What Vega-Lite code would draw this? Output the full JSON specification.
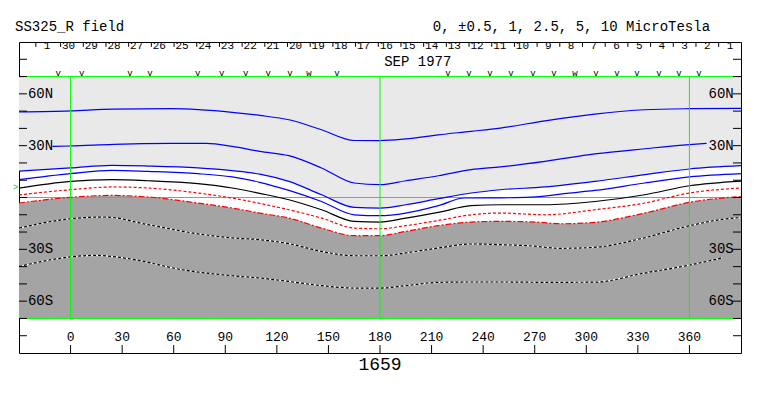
{
"$schema":"https://vega.github.io/schema/vega-lite/v6.json",
"width":722,"height":311,
"autosize":"none",
"padding":{"left":19,"top":42,"right":22,"bottom":43},
"background":"white",
"config":{"view":{"stroke":"#000000","strokeWidth":1},"text":{"font":"Liberation Mono","color":"#000000"}},
"datasets":{
"contours":[
{"c":"B1","lon":-30,"lat":49.5},{"c":"B1","lon":0,"lat":50.1},{"c":"B1","lon":25,"lat":51.2},{"c":"B1","lon":59,"lat":51.4},{"c":"B1","lon":94,"lat":49.3},{"c":"B1","lon":110,"lat":47.5},{"c":"B1","lon":127,"lat":45.0},{"c":"B1","lon":146,"lat":39.2},{"c":"B1","lon":165,"lat":33.0},{"c":"B1","lon":180,"lat":32.9},{"c":"B1","lon":195,"lat":33.9},{"c":"B1","lon":214,"lat":36.3},{"c":"B1","lon":233,"lat":38.3},{"c":"B1","lon":250,"lat":40.2},{"c":"B1","lon":276,"lat":44.4},{"c":"B1","lon":305,"lat":48.3},{"c":"B1","lon":334,"lat":50.8},{"c":"B1","lon":360,"lat":51.4},{"c":"B1","lon":390,"lat":51.6},
{"c":"B2","lon":-10.6,"lat":29.6},{"c":"B2","lon":0,"lat":29.8},{"c":"B2","lon":25,"lat":30.8},{"c":"B2","lon":59,"lat":31.3},{"c":"B2","lon":79,"lat":31.3},{"c":"B2","lon":94,"lat":29.6},{"c":"B2","lon":110,"lat":26.7},{"c":"B2","lon":127,"lat":24.2},{"c":"B2","lon":146,"lat":17.1},{"c":"B2","lon":165,"lat":8.4},{"c":"B2","lon":180,"lat":7.4},{"c":"B2","lon":195,"lat":9.7},{"c":"B2","lon":214,"lat":12.6},{"c":"B2","lon":233,"lat":16.1},{"c":"B2","lon":250,"lat":17.7},{"c":"B2","lon":276,"lat":20.9},{"c":"B2","lon":305,"lat":25.2},{"c":"B2","lon":334,"lat":28.2},{"c":"B2","lon":360,"lat":30.6},{"c":"B2","lon":370,"lat":31.3},
{"c":"B3","lon":-30,"lat":15.3},{"c":"B3","lon":0,"lat":17.1},{"c":"B3","lon":24,"lat":18.6},{"c":"B3","lon":45,"lat":18.2},{"c":"B3","lon":74,"lat":17.1},{"c":"B3","lon":94,"lat":15.5},{"c":"B3","lon":110,"lat":13.5},{"c":"B3","lon":127,"lat":9.3},{"c":"B3","lon":146,"lat":1.6},{"c":"B3","lon":165,"lat":-5.7},{"c":"B3","lon":180,"lat":-6.1},{"c":"B3","lon":195,"lat":-4.2},{"c":"B3","lon":214,"lat":-0.7},{"c":"B3","lon":233,"lat":2.6},{"c":"B3","lon":250,"lat":4.5},{"c":"B3","lon":276,"lat":6.1},{"c":"B3","lon":305,"lat":9.3},{"c":"B3","lon":334,"lat":13.2},{"c":"B3","lon":360,"lat":16.5},{"c":"B3","lon":390,"lat":18.4},
{"c":"B4","lon":-30,"lat":10.3},{"c":"B4","lon":0,"lat":13.8},{"c":"B4","lon":24,"lat":15.7},{"c":"B4","lon":45,"lat":15.1},{"c":"B4","lon":74,"lat":13.8},{"c":"B4","lon":94,"lat":11.9},{"c":"B4","lon":110,"lat":8.8},{"c":"B4","lon":127,"lat":4.1},{"c":"B4","lon":146,"lat":-2.3},{"c":"B4","lon":165,"lat":-10.0},{"c":"B4","lon":180,"lat":-10.5},{"c":"B4","lon":195,"lat":-9.0},{"c":"B4","lon":214,"lat":-4.7},{"c":"B4","lon":229,"lat":-0.3},{"c":"B4","lon":250,"lat":-0.2},{"c":"B4","lon":268,"lat":0.2},{"c":"B4","lon":290,"lat":2.5},{"c":"B4","lon":305,"lat":4.1},{"c":"B4","lon":334,"lat":8.4},{"c":"B4","lon":360,"lat":11.9},{"c":"B4","lon":390,"lat":13.8},
{"c":"K","lon":-30,"lat":5.4},{"c":"K","lon":0,"lat":9.3},{"c":"K","lon":24,"lat":10.3},{"c":"K","lon":45,"lat":9.7},{"c":"K","lon":74,"lat":8.0},{"c":"K","lon":94,"lat":5.5},{"c":"K","lon":110,"lat":2.4},{"c":"K","lon":127,"lat":-1.3},{"c":"K","lon":146,"lat":-7.1},{"c":"K","lon":165,"lat":-13.8},{"c":"K","lon":180,"lat":-14.2},{"c":"K","lon":195,"lat":-11.9},{"c":"K","lon":214,"lat":-8.6},{"c":"K","lon":233,"lat":-4.7},{"c":"K","lon":250,"lat":-4.2},{"c":"K","lon":276,"lat":-4.2},{"c":"K","lon":305,"lat":-2.3},{"c":"K","lon":334,"lat":1.6},{"c":"K","lon":360,"lat":6.8},{"c":"K","lon":390,"lat":9.5},
{"c":"R1","lon":-30,"lat":1.5},{"c":"R1","lon":0,"lat":4.5},{"c":"R1","lon":24,"lat":6.1},{"c":"R1","lon":45,"lat":5.5},{"c":"R1","lon":74,"lat":2.6},{"c":"R1","lon":94,"lat":-0.3},{"c":"R1","lon":110,"lat":-3.4},{"c":"R1","lon":127,"lat":-7.1},{"c":"R1","lon":146,"lat":-11.9},{"c":"R1","lon":165,"lat":-17.7},{"c":"R1","lon":180,"lat":-18.1},{"c":"R1","lon":195,"lat":-16.3},{"c":"R1","lon":214,"lat":-13.3},{"c":"R1","lon":233,"lat":-10.0},{"c":"R1","lon":250,"lat":-9.0},{"c":"R1","lon":276,"lat":-10.0},{"c":"R1","lon":305,"lat":-7.1},{"c":"R1","lon":334,"lat":-3.2},{"c":"R1","lon":360,"lat":2.6},{"c":"R1","lon":390,"lat":5.5},
{"c":"R2","lon":-30,"lat":-3.2},{"c":"R2","lon":0,"lat":0.1},{"c":"R2","lon":24,"lat":1.2},{"c":"R2","lon":45,"lat":0.3},{"c":"R2","lon":74,"lat":-3.2},{"c":"R2","lon":94,"lat":-6.1},{"c":"R2","lon":110,"lat":-9.0},{"c":"R2","lon":127,"lat":-11.9},{"c":"R2","lon":146,"lat":-17.7},{"c":"R2","lon":165,"lat":-22.1},{"c":"R2","lon":180,"lat":-22.1},{"c":"R2","lon":195,"lat":-19.6},{"c":"R2","lon":214,"lat":-16.3},{"c":"R2","lon":233,"lat":-14.2},{"c":"R2","lon":250,"lat":-13.8},{"c":"R2","lon":270,"lat":-14.2},{"c":"R2","lon":286,"lat":-15.2},{"c":"R2","lon":305,"lat":-14.4},{"c":"R2","lon":334,"lat":-9.0},{"c":"R2","lon":360,"lat":-2.8},{"c":"R2","lon":390,"lat":0.6},
{"c":"D1","lon":-30,"lat":-17.7},{"c":"D1","lon":0,"lat":-12.3},{"c":"D1","lon":20,"lat":-11.3},{"c":"D1","lon":45,"lat":-15.7},{"c":"D1","lon":74,"lat":-21.0},{"c":"D1","lon":94,"lat":-23.4},{"c":"D1","lon":110,"lat":-24.4},{"c":"D1","lon":127,"lat":-26.7},{"c":"D1","lon":146,"lat":-31.2},{"c":"D1","lon":165,"lat":-33.7},{"c":"D1","lon":180,"lat":-33.7},{"c":"D1","lon":195,"lat":-32.1},{"c":"D1","lon":214,"lat":-29.2},{"c":"D1","lon":233,"lat":-26.9},{"c":"D1","lon":250,"lat":-27.3},{"c":"D1","lon":266,"lat":-27.9},{"c":"D1","lon":285,"lat":-29.4},{"c":"D1","lon":304,"lat":-28.9},{"c":"D1","lon":333,"lat":-23.5},{"c":"D1","lon":359,"lat":-16.6},{"c":"D1","lon":381,"lat":-12.4},{"c":"D1","lon":390,"lat":-11.6},
{"c":"D2","lon":-30,"lat":-39.9},{"c":"D2","lon":0,"lat":-34.4},{"c":"D2","lon":14,"lat":-33.5},{"c":"D2","lon":35,"lat":-35.6},{"c":"D2","lon":65,"lat":-41.8},{"c":"D2","lon":94,"lat":-45.3},{"c":"D2","lon":110,"lat":-46.6},{"c":"D2","lon":127,"lat":-48.6},{"c":"D2","lon":146,"lat":-51.0},{"c":"D2","lon":165,"lat":-52.4},{"c":"D2","lon":180,"lat":-52.4},{"c":"D2","lon":195,"lat":-51.0},{"c":"D2","lon":214,"lat":-49.1},{"c":"D2","lon":233,"lat":-48.9},{"c":"D2","lon":250,"lat":-48.9},{"c":"D2","lon":276,"lat":-49.1},{"c":"D2","lon":305,"lat":-49.0},{"c":"D2","lon":333,"lat":-43.9},{"c":"D2","lon":359,"lat":-39.3},{"c":"D2","lon":379,"lat":-35.0}
],
"hgrid":[{"lat":70},{"lat":-70},{"lat":0}],
"vgrid":[{"lon":0},{"lon":180},{"lon":360}],
"yticks":[{"lat":-80},{"lat":-70},{"lat":-60},{"lat":-50},{"lat":-40},{"lat":-30},{"lat":-20},{"lat":-10},{"lat":0},{"lat":10},{"lat":20},{"lat":30},{"lat":40},{"lat":50},{"lat":60},{"lat":70},{"lat":80}],
"xlab":[{"lon":0,"t":"0"},{"lon":30,"t":"30"},{"lon":60,"t":"60"},{"lon":90,"t":"90"},{"lon":120,"t":"120"},{"lon":150,"t":"150"},{"lon":180,"t":"180"},{"lon":210,"t":"210"},{"lon":240,"t":"240"},{"lon":270,"t":"270"},{"lon":300,"t":"300"},{"lon":330,"t":"330"},{"lon":360,"t":"360"}],
"ylab":[{"lat":60,"t":"60N"},{"lat":30,"t":"30N"},{"lat":-30,"t":"30S"},{"lat":-60,"t":"60S"}],
"days":[{"lon":-20.2,"d":"1"},{"lon":-5.8,"d":"30"},{"lon":7.4,"d":"29"},{"lon":20.6,"d":"28"},{"lon":33.8,"d":"27"},{"lon":47.0,"d":"26"},{"lon":60.2,"d":"25"},{"lon":73.4,"d":"24"},{"lon":86.6,"d":"23"},{"lon":99.8,"d":"22"},{"lon":113.0,"d":"21"},{"lon":126.2,"d":"20"},{"lon":139.4,"d":"19"},{"lon":152.6,"d":"18"},{"lon":165.8,"d":"17"},{"lon":179.0,"d":"16"},{"lon":192.2,"d":"15"},{"lon":205.4,"d":"14"},{"lon":218.6,"d":"13"},{"lon":231.8,"d":"12"},{"lon":245.0,"d":"11"},{"lon":258.2,"d":"10"},{"lon":271.4,"d":"9"},{"lon":284.6,"d":"8"},{"lon":297.8,"d":"7"},{"lon":311.0,"d":"6"},{"lon":324.2,"d":"5"},{"lon":337.4,"d":"4"},{"lon":350.6,"d":"3"},{"lon":363.8,"d":"2"},{"lon":377.0,"d":"1"}],
"vmarks":[{"lon":-7.2,"m":"v"},{"lon":6.5,"m":"v"},{"lon":34.6,"m":"v"},{"lon":46.2,"m":"v"},{"lon":73.9,"m":"v"},{"lon":87.9,"m":"v"},{"lon":101.9,"m":"v"},{"lon":115.0,"m":"v"},{"lon":127.6,"m":"v"},{"lon":138.7,"m":"w"},{"lon":155.0,"m":"v"},{"lon":219.5,"m":"v"},{"lon":231.8,"m":"v"},{"lon":244.0,"m":"v"},{"lon":256.2,"m":"v"},{"lon":269.0,"m":"v"},{"lon":281.2,"m":"v"},{"lon":293.4,"m":"w"},{"lon":305.6,"m":"v"},{"lon":317.8,"m":"v"},{"lon":329.5,"m":"v"},{"lon":342.3,"m":"v"},{"lon":353.9,"m":"v"},{"lon":365.6,"m":"v"}],
"labels":[{"lon":-32.3,"lat":98.85,"t":"SS325_R field","a":"left"},{"lon":372,"lat":98.85,"t":"0, ±0.5, 1, 2.5, 5, 10 MicroTesla","a":"right"}]
},
"layer":[
{"data":{"name":"contours"},"transform":[{"filter":"datum.c === 'B3'"}],
 "mark":{"type":"area","color":"#e9e9e9","interpolate":"monotone"},
 "encoding":{"x":{"field":"lon","type":"quantitative","scale":{"domain":[-30,390],"nice":false,"zero":false},"axis":null},
  "y":{"field":"lat","type":"quantitative","scale":{"domain":[-90,90],"nice":false,"zero":false},"axis":null},
  "y2":{"datum":70}}},
{"data":{"name":"contours"},"transform":[{"filter":"datum.c === 'R2'"}],
 "mark":{"type":"area","color":"#a4a4a4","interpolate":"monotone"},
 "encoding":{"x":{"field":"lon","type":"quantitative","scale":{"domain":[-30,390],"nice":false,"zero":false},"axis":null},
  "y":{"field":"lat","type":"quantitative","scale":{"domain":[-90,90],"nice":false,"zero":false},"axis":null},
  "y2":{"datum":-70}}},
{"data":{"name":"hgrid"},"mark":{"type":"rule","color":"#00ff00","strokeWidth":1},
 "encoding":{"y":{"field":"lat","type":"quantitative","scale":{"domain":[-90,90],"nice":false,"zero":false},"axis":null},
  "x":{"datum":-30,"type":"quantitative","scale":{"domain":[-30,390],"nice":false,"zero":false},"axis":null},"x2":{"datum":390}}},
{"data":{"name":"contours"},"transform":[{"filter":"indexof(['B1','B2','B3','B4'], datum.c) >= 0"}],
 "mark":{"type":"line","color":"#0000ff","strokeWidth":1.2,"interpolate":"monotone"},
 "encoding":{"x":{"field":"lon","type":"quantitative","scale":{"domain":[-30,390],"nice":false,"zero":false},"axis":null},
  "y":{"field":"lat","type":"quantitative","scale":{"domain":[-90,90],"nice":false,"zero":false},"axis":null},
  "detail":{"field":"c"}}},
{"data":{"name":"contours"},"transform":[{"filter":"datum.c === 'K'"}],
 "mark":{"type":"line","color":"#000000","strokeWidth":1.2,"interpolate":"monotone"},
 "encoding":{"x":{"field":"lon","type":"quantitative","scale":{"domain":[-30,390],"nice":false,"zero":false},"axis":null},
  "y":{"field":"lat","type":"quantitative","scale":{"domain":[-90,90],"nice":false,"zero":false},"axis":null}}},
{"data":{"name":"contours"},"transform":[{"filter":"datum.c === 'R1'"}],
 "mark":{"type":"line","color":"#ff0000","strokeWidth":1.2,"strokeDash":[3,2],"interpolate":"monotone"},
 "encoding":{"x":{"field":"lon","type":"quantitative","scale":{"domain":[-30,390],"nice":false,"zero":false},"axis":null},
  "y":{"field":"lat","type":"quantitative","scale":{"domain":[-90,90],"nice":false,"zero":false},"axis":null}}},
{"data":{"name":"contours"},"transform":[{"filter":"datum.c === 'R2'"}],
 "mark":{"type":"line","color":"#ff0000","strokeWidth":1.2,"strokeDash":[6,2,2,2],"interpolate":"monotone"},
 "encoding":{"x":{"field":"lon","type":"quantitative","scale":{"domain":[-30,390],"nice":false,"zero":false},"axis":null},
  "y":{"field":"lat","type":"quantitative","scale":{"domain":[-90,90],"nice":false,"zero":false},"axis":null}}},
{"data":{"name":"contours"},"transform":[{"filter":"datum.c === 'D1' || datum.c === 'D2'"}],
 "mark":{"type":"line","color":"#ffffff","strokeWidth":1.2,"interpolate":"monotone"},
 "encoding":{"x":{"field":"lon","type":"quantitative","scale":{"domain":[-30,390],"nice":false,"zero":false},"axis":null},
  "y":{"field":"lat","type":"quantitative","scale":{"domain":[-90,90],"nice":false,"zero":false},"axis":null},
  "detail":{"field":"c"}}},
{"data":{"name":"contours"},"transform":[{"filter":"datum.c === 'D1' || datum.c === 'D2'"}],
 "mark":{"type":"line","color":"#000000","strokeWidth":1.2,"strokeDash":[3,2],"interpolate":"monotone"},
 "encoding":{"x":{"field":"lon","type":"quantitative","scale":{"domain":[-30,390],"nice":false,"zero":false},"axis":null},
  "y":{"field":"lat","type":"quantitative","scale":{"domain":[-90,90],"nice":false,"zero":false},"axis":null},
  "detail":{"field":"c"}}},
{"data":{"name":"vgrid"},"mark":{"type":"rule","color":"#00ff00","strokeWidth":1},
 "encoding":{"x":{"field":"lon","type":"quantitative","scale":{"domain":[-30,390],"nice":false,"zero":false},"axis":null},
  "y":{"datum":-70,"type":"quantitative","scale":{"domain":[-90,90],"nice":false,"zero":false},"axis":null},"y2":{"datum":70}}},
{"data":{"name":"yticks"},"mark":{"type":"rule","color":"#000000","strokeWidth":1},
 "encoding":{"y":{"field":"lat","type":"quantitative","scale":{"domain":[-90,90],"nice":false,"zero":false},"axis":null},
  "x":{"datum":-30,"type":"quantitative","scale":{"domain":[-30,390],"nice":false,"zero":false},"axis":null},"x2":{"datum":-25.35}}},
{"data":{"name":"yticks"},"mark":{"type":"rule","color":"#000000","strokeWidth":1},
 "encoding":{"y":{"field":"lat","type":"quantitative","scale":{"domain":[-90,90],"nice":false,"zero":false},"axis":null},
  "x":{"datum":385.35,"type":"quantitative","scale":{"domain":[-30,390],"nice":false,"zero":false},"axis":null},"x2":{"datum":390}}},
{"data":{"name":"xlab"},"mark":{"type":"rule","color":"#000000","strokeWidth":1},
 "encoding":{"x":{"field":"lon","type":"quantitative","scale":{"domain":[-30,390],"nice":false,"zero":false},"axis":null},
  "y":{"datum":-90,"type":"quantitative","scale":{"domain":[-90,90],"nice":false,"zero":false},"axis":null},"y2":{"datum":-85.4}}},
{"data":{"name":"xlab"},"mark":{"type":"text","fontSize":13,"align":"center","baseline":"middle"},
 "encoding":{"x":{"field":"lon","type":"quantitative","scale":{"domain":[-30,390],"nice":false,"zero":false},"axis":null},
  "y":{"datum":-80.7,"type":"quantitative","scale":{"domain":[-90,90],"nice":false,"zero":false},"axis":null},"text":{"field":"t"}}},
{"data":{"name":"ylab"},"mark":{"type":"text","fontSize":14,"align":"left","baseline":"middle"},
 "encoding":{"y":{"field":"lat","type":"quantitative","scale":{"domain":[-90,90],"nice":false,"zero":false},"axis":null},
  "x":{"datum":-24.8,"type":"quantitative","scale":{"domain":[-30,390],"nice":false,"zero":false},"axis":null},"text":{"field":"t"}}},
{"data":{"name":"ylab"},"mark":{"type":"text","fontSize":14,"align":"right","baseline":"middle"},
 "encoding":{"y":{"field":"lat","type":"quantitative","scale":{"domain":[-90,90],"nice":false,"zero":false},"axis":null},
  "x":{"datum":385.8,"type":"quantitative","scale":{"domain":[-30,390],"nice":false,"zero":false},"axis":null},"text":{"field":"t"}}},
{"data":{"name":"days"},"mark":{"type":"rule","color":"#000000","strokeWidth":1},
 "encoding":{"x":{"field":"lon","type":"quantitative","scale":{"domain":[-30,390],"nice":false,"zero":false},"axis":null},
  "y":{"datum":90,"type":"quantitative","scale":{"domain":[-90,90],"nice":false,"zero":false},"axis":null},"y2":{"datum":87.2}}},
{"data":{"name":"days"},"mark":{"type":"text","fontSize":11,"align":"right","baseline":"middle","dx":14.6},
 "encoding":{"x":{"field":"lon","type":"quantitative","scale":{"domain":[-30,390],"nice":false,"zero":false},"axis":null},
  "y":{"datum":87.6,"type":"quantitative","scale":{"domain":[-90,90],"nice":false,"zero":false},"axis":null},"text":{"field":"d"}}},
{"data":{"name":"vmarks"},"mark":{"type":"text","fontSize":9,"align":"center","baseline":"middle"},
 "encoding":{"x":{"field":"lon","type":"quantitative","scale":{"domain":[-30,390],"nice":false,"zero":false},"axis":null},
  "y":{"datum":72.2,"type":"quantitative","scale":{"domain":[-90,90],"nice":false,"zero":false},"axis":null},"text":{"field":"m"}}},
{"data":{"values":[{"lon":202,"lat":78.5,"t":"SEP 1977"}]},"mark":{"type":"text","fontSize":14,"align":"center","baseline":"middle"},
 "encoding":{"x":{"field":"lon","type":"quantitative","scale":{"domain":[-30,390],"nice":false,"zero":false},"axis":null},
  "y":{"field":"lat","type":"quantitative","scale":{"domain":[-90,90],"nice":false,"zero":false},"axis":null},"text":{"field":"t"}}},
{"data":{"values":[{"lon":180,"lat":-96.8,"t":"1659"}]},"mark":{"type":"text","fontSize":18,"align":"center","baseline":"middle"},
 "encoding":{"x":{"field":"lon","type":"quantitative","scale":{"domain":[-30,390],"nice":false,"zero":false},"axis":null},
  "y":{"field":"lat","type":"quantitative","scale":{"domain":[-90,90],"nice":false,"zero":false},"axis":null},"text":{"field":"t"}}},
{"data":{"values":[{"lon":-30.3,"lat":6.3,"t":">"}]},"mark":{"type":"text","fontSize":9,"align":"right","baseline":"middle","color":"#00cc00"},
 "encoding":{"x":{"field":"lon","type":"quantitative","scale":{"domain":[-30,390],"nice":false,"zero":false},"axis":null},
  "y":{"field":"lat","type":"quantitative","scale":{"domain":[-90,90],"nice":false,"zero":false},"axis":null},"text":{"field":"t"}}},
{"data":{"name":"labels"},"transform":[{"filter":"datum.a === 'left'"}],"mark":{"type":"text","fontSize":14,"align":"left","baseline":"middle"},
 "encoding":{"x":{"field":"lon","type":"quantitative","scale":{"domain":[-30,390],"nice":false,"zero":false},"axis":null},
  "y":{"field":"lat","type":"quantitative","scale":{"domain":[-90,90],"nice":false,"zero":false},"axis":null},"text":{"field":"t"}}},
{"data":{"name":"labels"},"transform":[{"filter":"datum.a === 'right'"}],"mark":{"type":"text","fontSize":14,"align":"right","baseline":"middle"},
 "encoding":{"x":{"field":"lon","type":"quantitative","scale":{"domain":[-30,390],"nice":false,"zero":false},"axis":null},
  "y":{"field":"lat","type":"quantitative","scale":{"domain":[-90,90],"nice":false,"zero":false},"axis":null},"text":{"field":"t"}}}
]
}
